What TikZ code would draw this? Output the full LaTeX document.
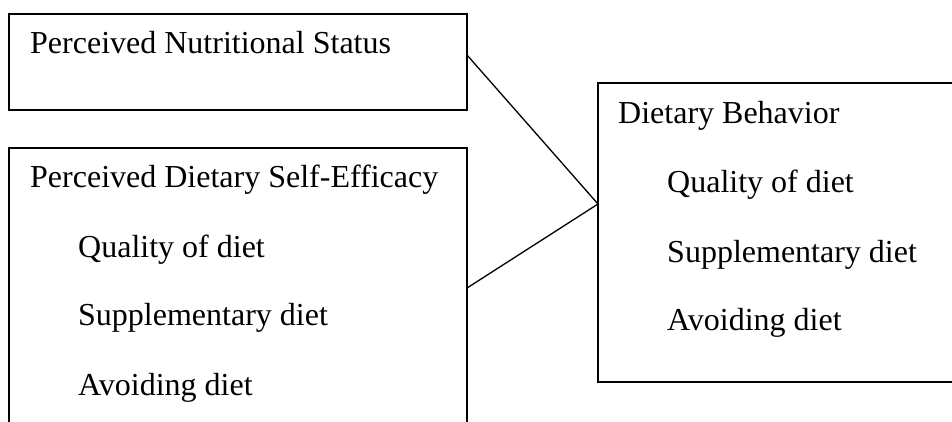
\documentclass[tikz,border=0pt]{standalone}
\usepackage{fontspec}
\setmainfont{Liberation Serif}
\begin{document}
\begin{tikzpicture}[x=1pt,y=-1pt,
  boxline/.style={draw=black,line width=1.6pt},
  link/.style={draw=black,line width=1.3pt},
  lbl/.style={anchor=base west,inner sep=0pt,font=\fontsize{32}{38}\selectfont}]
\useasboundingbox (0,0) rectangle (952,421);
\clip (0,0) rectangle (952,421);
% boxes
\coordinate (b1nw) at (9,14);
\coordinate (b1se) at (467,110);
\coordinate (b2nw) at (9,148);
\coordinate (b2se) at (467,460);
\coordinate (b3nw) at (598,83);
\coordinate (b3se) at (990,382);
\draw[boxline] (b1nw) rectangle (b1se);
\draw[boxline] (b2nw) rectangle (b2se);
\draw[boxline] (b3nw) rectangle (b3se);
% texts
\node[lbl] (t1) at (30,53) {Perceived Nutritional Status};
\node[lbl] (t2) at (30,187) {Perceived Dietary Self-Efficacy};
\node[lbl] (t2a) at (78,257) {Quality of diet};
\node[lbl] (t2b) at (78,325) {Supplementary diet};
\node[lbl] (t2c) at (78,395) {Avoiding diet};
\node[lbl] (t3) at (618,123) {Dietary Behavior};
\node[lbl] (t3a) at (667,192) {Quality of diet};
\node[lbl] (t3b) at (667,262) {Supplementary diet};
\node[lbl] (t3c) at (667,330) {Avoiding diet};
% connectors
\coordinate (p1) at (467,55);
\coordinate (p2) at (467,288);
\coordinate (q) at (598,204);
\draw[link] (p1) -- (q) -- (p2);
\end{tikzpicture}
\end{document}
